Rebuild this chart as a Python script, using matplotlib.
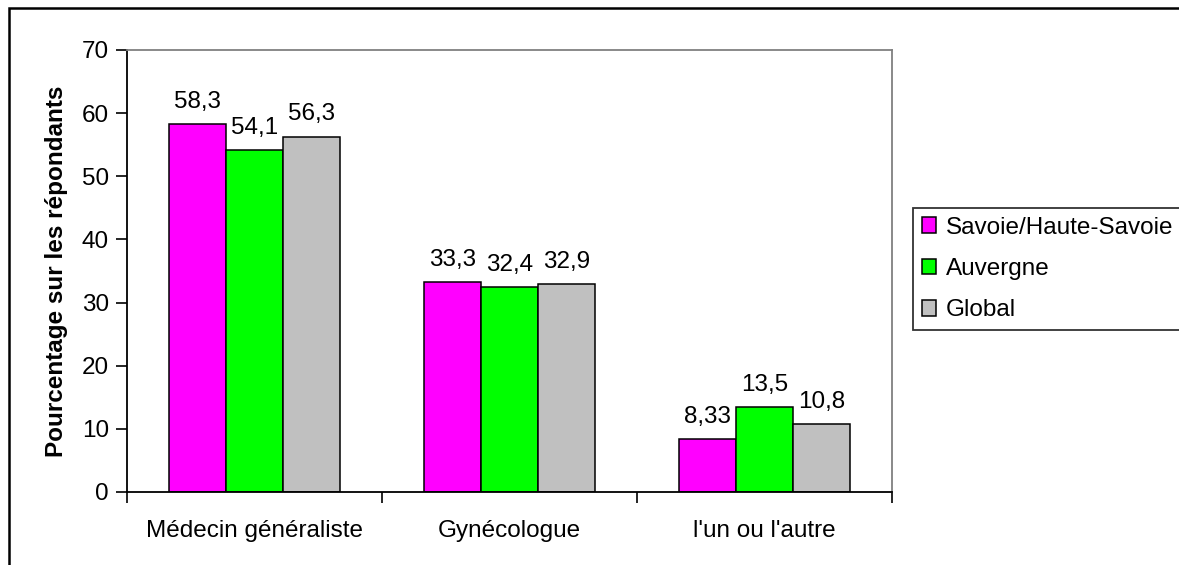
import matplotlib
matplotlib.use("Agg")
import matplotlib.pyplot as plt
import numpy as np
from matplotlib.patches import Rectangle

# data
categories = ["Médecin généraliste", "Gynécologue", "l'un ou l'autre"]
series_names = ["Savoie/Haute-Savoie", "Auvergne", "Global"]
savoie = [58.3, 33.3, 8.33]
auvergne = [54.1, 32.4, 13.5]
global_ = [56.3, 32.9, 10.8]
colors = ["#FF00FF", "#00FF00", "#C0C0C0"]

plt.rcParams["font.family"] = ["Liberation Sans", "DejaVu Sans"]
FS = 17.5

fig = plt.figure(figsize=(11.79, 5.65), dpi=100)
ax = fig.add_axes([127 / 1179, 1 - 492 / 565, (892 - 127) / 1179, (492 - 50) / 565])

x = np.arange(len(categories))
w = 0.224
for i, (vals, name, col) in enumerate(zip([savoie, auvergne, global_], series_names, colors)):
    bars = ax.bar(x + (i - 1) * w, vals, width=w, color=col, edgecolor="black",
                  linewidth=1.1, label=name)
    ax.bar_label(bars, labels=[str(v).replace(".", ",") for v in vals],
                 padding=8, fontsize=FS)

ax.set_xlim(-0.5, 2.5)
ax.set_ylim(0, 70)
ax.set_yticks(range(0, 71, 10))
ax.tick_params(axis="y", direction="out", length=8, width=1.2, pad=5, labelsize=FS)

ax.set_xticks(x)
ax.set_xticklabels(categories)
ax.tick_params(axis="x", which="major", length=0, pad=20, labelsize=FS)
ax.set_xticks([-0.5, 0.5, 1.5, 2.5], minor=True)
ax.tick_params(axis="x", which="minor", direction="out", length=8, width=1.2)

for s in ["left", "bottom"]:
    ax.spines[s].set_color("black")
    ax.spines[s].set_linewidth(1.3)
for s in ["top", "right"]:
    ax.spines[s].set_color("#808080")
    ax.spines[s].set_linewidth(1.3)

ax.set_ylabel("Pourcentage sur les répondants", fontsize=FS, fontweight="bold", labelpad=10)

leg = fig.legend(loc="center left", bbox_to_anchor=(913 / 1179, 1 - 269 / 565),
                 fontsize=FS, frameon=True, fancybox=False, handlelength=0.6,
                 handleheight=0.6, handletextpad=0.4, labelspacing=0.8,
                 borderpad=0.35, borderaxespad=0)
leg.get_frame().set_edgecolor("black")
leg.get_frame().set_linewidth(1.3)

# outer chart border (cut at right and bottom like the original)
fig.add_artist(Rectangle((8.5 / 1179, -0.2), 1.5, 1.2 - 7.5 / 565, transform=fig.transFigure,
                         fill=False, edgecolor="black", linewidth=1.8))

fig.savefig("out.png", dpi=100)
